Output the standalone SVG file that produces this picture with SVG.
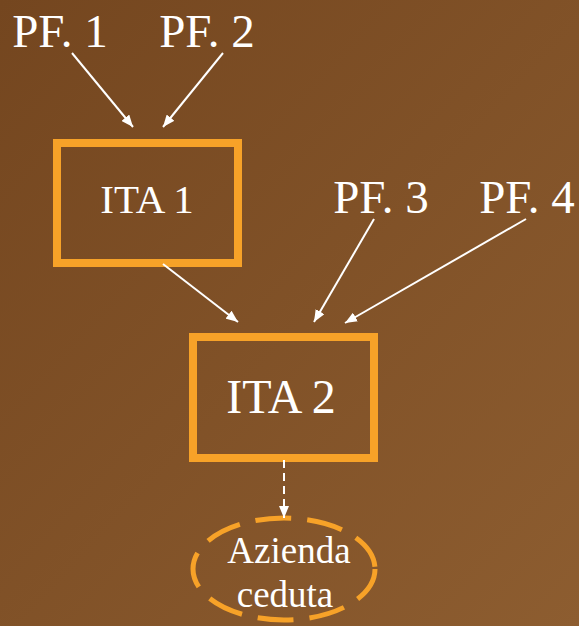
<svg xmlns="http://www.w3.org/2000/svg" width="579" height="626" viewBox="0 0 579 626">
  <defs>
    <linearGradient id="bg" x1="0" y1="0" x2="1" y2="1">
      <stop offset="0" stop-color="#74461F"/>
      <stop offset="1" stop-color="#8D5D30"/>
    </linearGradient>
    <marker id="ah" viewBox="0 0 12 10" refX="12" refY="5" markerWidth="12" markerHeight="10" markerUnits="userSpaceOnUse" orient="auto">
      <path d="M0,0 L12,5 L0,10 Z" fill="#FFFFFF"/>
    </marker>
    <style>
      .box { fill: none; stroke: #F7A228; stroke-width: 8; }
      .lbl { font-family: "Liberation Serif", "Times New Roman", serif; fill: #FFFFFF; }
      .conn { stroke: #FFFFFF; stroke-width: 2; fill: none; marker-end: url(#ah); }
    </style>
  </defs>
  <rect width="579" height="626" fill="url(#bg)"/>

  <g id="pf1"><text class="lbl" x="60" y="47" font-size="47" text-anchor="middle">PF. 1</text></g>
  <g id="pf2"><text class="lbl" x="207" y="47" font-size="47" text-anchor="middle">PF. 2</text></g>
  <g id="pf3"><text class="lbl" x="381" y="213" font-size="47" text-anchor="middle">PF. 3</text></g>
  <g id="pf4"><text class="lbl" x="527" y="213" font-size="47" text-anchor="middle">PF. 4</text></g>

  <g id="ita1">
    <rect class="box" x="57" y="143" width="181" height="120"/>
    <text class="lbl" x="147" y="213" font-size="41" text-anchor="middle">ITA 1</text>
  </g>
  <g id="ita2">
    <rect class="box" x="193" y="337" width="181" height="121"/>
    <text class="lbl" x="281" y="413" font-size="48" text-anchor="middle">ITA 2</text>
  </g>
  <g id="azienda">
    <ellipse cx="284" cy="569" rx="91" ry="51" fill="none" stroke="#F7A228" stroke-width="5" stroke-dasharray="36 16"/>
    <text class="lbl" x="289" y="563" font-size="37" text-anchor="middle">Azienda</text>
    <text class="lbl" x="285" y="607" font-size="37" text-anchor="middle">ceduta</text>
  </g>

  <g id="connectors">
    <line class="conn" x1="72" y1="53" x2="133" y2="127"/>
    <line class="conn" x1="223" y1="53" x2="163" y2="127"/>
    <line class="conn" x1="163" y1="264" x2="238" y2="322"/>
    <line class="conn" x1="374" y1="219" x2="314" y2="322"/>
    <line class="conn" x1="526" y1="219" x2="345" y2="323"/>
    <line class="conn" x1="284" y1="460" x2="284" y2="518" stroke-dasharray="8 5"/>
  </g>
</svg>
